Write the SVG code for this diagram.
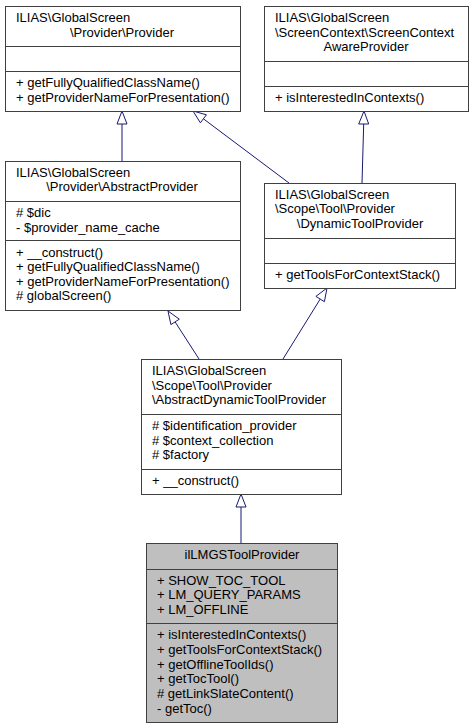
<svg xmlns="http://www.w3.org/2000/svg" width="474" height="728" viewBox="0 0 474 728">
<style>
text{font-family:"Liberation Sans",Arial,sans-serif;font-size:13px;fill:#000}
.box{fill:#fff;stroke:#404040;stroke-width:1}
.cur{fill:#bfbfbf;stroke:#404040;stroke-width:1}
.sep{stroke:#404040;stroke-width:1}
.edge{stroke:#191970;stroke-width:1;fill:none}
.head{fill:#fff;stroke:#191970;stroke-width:1}
.c{text-anchor:middle}
</style>
<rect width="474" height="728" fill="#fff"/>
<g id="connectors">
<line class="edge" x1="122" y1="161" x2="122" y2="124"/>
<polygon class="head" points="122,111 117,124 127,124"/>
<line class="edge" x1="289" y1="183" x2="203.4" y2="118.8"/>
<polygon class="head" points="193,111 200.4,122.8 206.4,114.8"/>
<line class="edge" x1="362" y1="183" x2="363.7" y2="124"/>
<polygon class="head" points="364,111 358.7,124 368.7,124"/>
<line class="edge" x1="199" y1="359" x2="175.1" y2="321.9"/>
<polygon class="head" points="168,311 170.9,324.6 179.3,319.2"/>
<line class="edge" x1="283" y1="359" x2="320.2" y2="299.1"/>
<polygon class="head" points="327,288 324.4,301.7 315.9,296.4"/>
<line class="edge" x1="241" y1="543" x2="241" y2="507"/>
<polygon class="head" points="241,494 236,507 246,507"/>
</g>
<g id="node-provider">
<rect class="box" x="5.5" y="6.5" width="235" height="105"/>
<text x="16" y="22">ILIAS\GlobalScreen</text>
<text class="c" x="122" y="37">\Provider\Provider</text>
<line class="sep" x1="5.5" y1="46.5" x2="240.5" y2="46.5"/>
<line class="sep" x1="5.5" y1="71.5" x2="240.5" y2="71.5"/>
<text x="16" y="87">+ getFullyQualifiedClassName()</text>
<text x="16" y="102">+ getProviderNameForPresentation()</text>
</g>
<g id="node-screencontextawareprovider">
<rect class="box" x="264.5" y="6.5" width="204" height="105"/>
<text x="275" y="22">ILIAS\GlobalScreen</text>
<text x="275" y="37">\ScreenContext\ScreenContext</text>
<text class="c" x="366" y="51">AwareProvider</text>
<line class="sep" x1="264.5" y1="61.5" x2="468.5" y2="61.5"/>
<line class="sep" x1="264.5" y1="86.5" x2="468.5" y2="86.5"/>
<text x="275" y="102">+ isInterestedInContexts()</text>
</g>
<g id="node-abstractprovider">
<rect class="box" x="5.5" y="161.5" width="235" height="149"/>
<text x="16" y="177">ILIAS\GlobalScreen</text>
<text class="c" x="122" y="191">\Provider\AbstractProvider</text>
<line class="sep" x1="5.5" y1="201.5" x2="240.5" y2="201.5"/>
<text x="16" y="217"># $dic</text>
<text x="16" y="232">- $provider_name_cache</text>
<line class="sep" x1="5.5" y1="240.5" x2="240.5" y2="240.5"/>
<text x="16" y="257">+ __construct()</text>
<text x="16" y="271">+ getFullyQualifiedClassName()</text>
<text x="16" y="286">+ getProviderNameForPresentation()</text>
<text x="16" y="300"># globalScreen()</text>
</g>
<g id="node-dynamictoolprovider">
<rect class="box" x="264.5" y="183.5" width="191" height="105"/>
<text x="275" y="199">ILIAS\GlobalScreen</text>
<text x="275" y="213">\Scope\Tool\Provider</text>
<text class="c" x="360" y="228">\DynamicToolProvider</text>
<line class="sep" x1="264.5" y1="238.5" x2="455.5" y2="238.5"/>
<line class="sep" x1="264.5" y1="263.5" x2="455.5" y2="263.5"/>
<text x="275" y="279">+ getToolsForContextStack()</text>
</g>
<g id="node-abstractdynamictoolprovider">
<rect class="box" x="141.5" y="359.5" width="200" height="135"/>
<text x="152" y="375">ILIAS\GlobalScreen</text>
<text x="152" y="390">\Scope\Tool\Provider</text>
<text x="152" y="404">\AbstractDynamicToolProvider</text>
<line class="sep" x1="141.5" y1="414.5" x2="341.5" y2="414.5"/>
<text x="152" y="430"># $identification_provider</text>
<text x="152" y="445"># $context_collection</text>
<text x="152" y="459"># $factory</text>
<line class="sep" x1="141.5" y1="469.5" x2="341.5" y2="469.5"/>
<text x="152" y="485">+ __construct()</text>
</g>
<g id="node-illmgstoolprovider">
<rect class="cur" x="146.5" y="543.5" width="191" height="179"/>
<text class="c" x="242" y="559">ilLMGSToolProvider</text>
<line class="sep" x1="146.5" y1="569.5" x2="337.5" y2="569.5"/>
<text x="157" y="585">+ SHOW_TOC_TOOL</text>
<text x="157" y="599">+ LM_QUERY_PARAMS</text>
<text x="157" y="614">+ LM_OFFLINE</text>
<line class="sep" x1="146.5" y1="623.5" x2="337.5" y2="623.5"/>
<text x="157" y="639">+ isInterestedInContexts()</text>
<text x="157" y="654">+ getToolsForContextStack()</text>
<text x="157" y="669">+ getOfflineToolIds()</text>
<text x="157" y="683">+ getTocTool()</text>
<text x="157" y="698"># getLinkSlateContent()</text>
<text x="157" y="713">- getToc()</text>
</g>
</svg>
